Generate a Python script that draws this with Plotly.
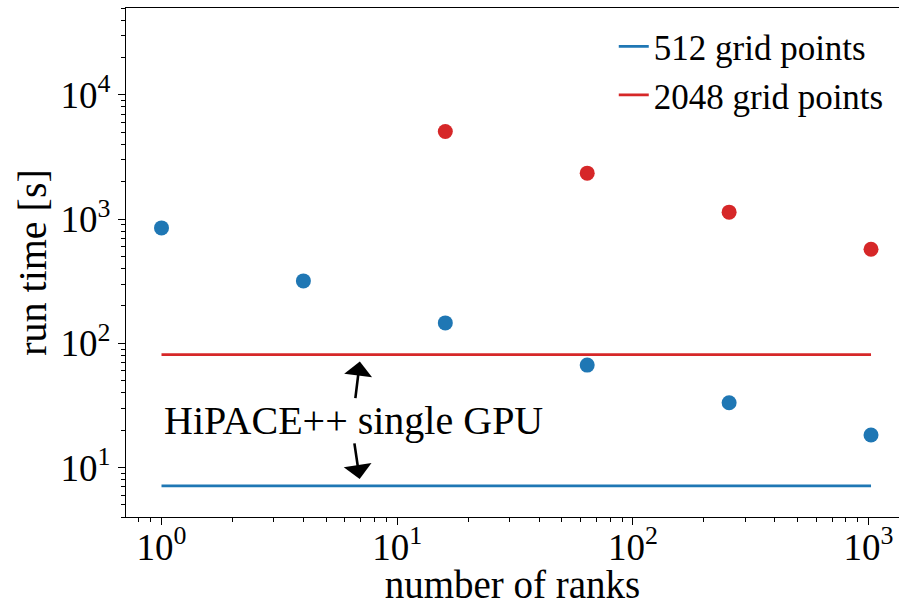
import numpy as np
import plotly.graph_objects as go

# ---- data ----
ranks_512 = [1, 4, 16, 64, 256, 1024]
time_512 = [849, 318, 146, 66.8, 33.2, 18.3]
ranks_2048 = [16, 64, 256, 1024]
time_2048 = [5064, 2342, 1137, 572]
single_gpu_512 = 7.12
single_gpu_2048 = 81.2
line_x = [1, 1024]
series_labels = ["512 grid points", "2048 grid points"]
x_tickvals = [1, 10, 100, 1000]
x_ticktext = ["10<sup>0</sup>", "10<sup>1</sup>", "10<sup>2</sup>", "10<sup>3</sup>"]
y_tickvals = [10, 100, 1000, 10000]
y_ticktext = ["10<sup>1</sup>", "10<sup>2</sup>", "10<sup>3</sup>", "10<sup>4</sup>"]
annot_text = "HiPACE++ single GPU"
annot_x = 1.0
annot_y = 24.0
arrow_x = 7.0

BLUE = "#1f77b4"
RED = "#d62728"
FONT = "Liberation Serif"

fig = go.Figure()
fig.add_trace(go.Scatter(x=line_x, y=[single_gpu_512] * 2, mode="lines",
                         line=dict(color=BLUE, width=2.8), name=series_labels[0]))
fig.add_trace(go.Scatter(x=line_x, y=[single_gpu_2048] * 2, mode="lines",
                         line=dict(color=RED, width=2.8), name=series_labels[1]))
fig.add_trace(go.Scatter(x=ranks_512, y=time_512, mode="markers",
                         marker=dict(color=BLUE, size=15, line=dict(width=0)),
                         showlegend=False))
fig.add_trace(go.Scatter(x=ranks_2048, y=time_2048, mode="markers",
                         marker=dict(color=RED, size=15, line=dict(width=0)),
                         showlegend=False))

# text annotation
fig.add_annotation(x=np.log10(annot_x), y=np.log10(annot_y), text=annot_text,
                   showarrow=False, xanchor="left", yanchor="middle",
                   font=dict(family=FONT, size=40, color="black"))
# arrows
for val, ax, ay in [(single_gpu_2048, -5.5, 45), (single_gpu_512, -6.5, -44)]:
    fig.add_annotation(x=np.log10(arrow_x), y=np.log10(val), text="",
                       showarrow=True, arrowhead=1, arrowsize=1.8, arrowwidth=2.6,
                       arrowcolor="black", ax=ax, ay=ay, standoff=7)

axis_common = dict(type="log", showgrid=False, zeroline=False, showline=True,
                   linecolor="black", linewidth=1.4, ticks="outside", ticklen=7,
                   tickwidth=1.3, tickcolor="black", automargin=False,
                   tickfont=dict(family=FONT, size=37, color="black"),
                   minor=dict(ticks="outside", ticklen=4, tickwidth=1.1,
                              tickcolor="black", dtick="D1", showgrid=False))

fig.update_xaxes(**axis_common, range=[-0.1506, 3.129], mirror=True,
                 tickmode="array", tickvals=x_tickvals, ticktext=x_ticktext,
                 ticklabelstandoff=-10,
                 title=dict(text="number of ranks", standoff=3,
                            font=dict(family=FONT, size=39, color="black")))
fig.update_yaxes(**axis_common, range=[np.log10(4), np.log10(5e4)], mirror=False,
                 tickmode="array", tickvals=y_tickvals, ticktext=y_ticktext,
                 title=dict(text="run time [s]", standoff=1,
                            font=dict(family=FONT, size=40, color="black")))

fig.update_layout(
    width=899, height=606,
    margin=dict(l=126, r=0, t=8, b=89),
    paper_bgcolor="white", plot_bgcolor="white",
    font=dict(family=FONT, color="black"),
    legend=dict(x=0.631, y=0.982, xanchor="left", yanchor="top",
                bgcolor="rgba(0,0,0,0)", borderwidth=0,
                font=dict(family=FONT, size=35, color="black"),
                itemwidth=30, tracegroupgap=0),
)

fig.write_html("out.html", config={"displayModeBar": False},
               post_script="document.body.style.margin='0';document.body.style.overflow='hidden';")
